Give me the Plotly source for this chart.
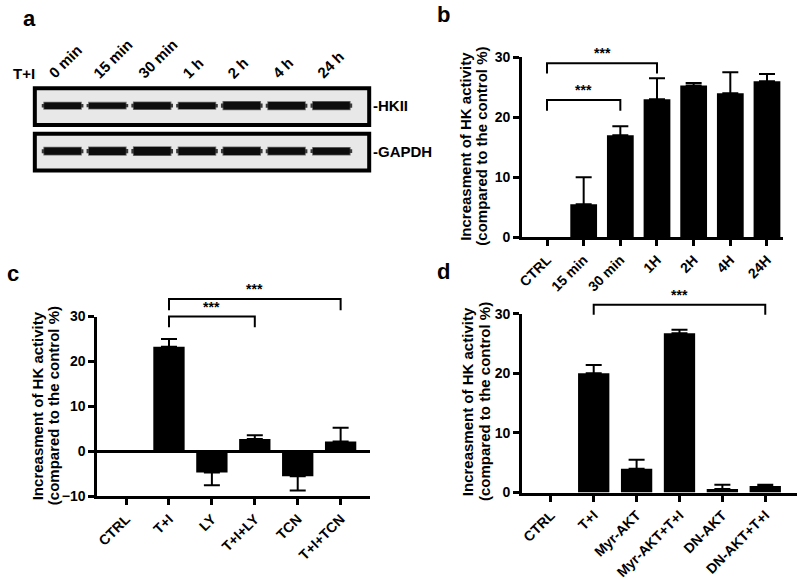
import plotly.graph_objects as go

# ---------------- data ----------------
# panel a (western blot)
lanes = ["0 min", "15 min", "30 min", "1 h", "2 h", "4 h", "24 h"]
hkii_thickness = [0.15, 0.14, 0.16, 0.15, 0.18, 0.17, 0.18]
gapdh_thickness = [0.17, 0.18, 0.19, 0.18, 0.18, 0.17, 0.16]
blot_rows = ["-HKII", "-GAPDH"]

# panel b
b_cats = ["CTRL", "15 min", "30 min", "1H", "2H", "4H", "24H"]
b_vals = [0, 5.5, 17.0, 23.0, 25.3, 24.0, 26.0]
b_err = [None, 4.5, 1.5, 3.5, 0.4, 3.5, 1.2]

# panel c
c_cats = ["CTRL", "T+I", "LY", "T+I+LY", "TCN", "T+I+TCN"]
c_vals = [0, 23.3, -4.7, 2.8, -5.5, 2.2]
c_err = [None, 1.7, 2.8, 0.8, 3.2, 3.1]

# panel d
d_cats = ["CTRL", "T+I", "Myr-AKT", "Myr-AKT+T+I", "DN-AKT", "DN-AKT+T+I"]
d_vals = [0, 20.0, 4.0, 26.7, 0.6, 1.1]
d_err = [None, 1.4, 1.5, 0.6, 0.7, 0.2]

# significance brackets: (from index, to index, top y, leg end y)
b_brackets = [(0, 3, 29.0, 27.3), (0, 2, 22.9, 21.1)]
c_brackets = [(1, 3, 30.0, 27.6), (1, 5, 33.9, 31.4)]
d_brackets = [(1, 5, 31.5, 29.8)]
sig_label = "***"

ytitle_lines = ["Increasment of HK activity", "(compared to the control %)"]

FONT = "Liberation Sans, Arial, sans-serif"
W, H = 797, 580
fig = go.Figure()


def pfx(px):
    return px / W


def pfy(py):
    return 1 - py / H


# panel geometry (pixels): x left, x right, y bottom, y top, x range, y range
panels = {
    "b": dict(xl=520, xr=783, yb=237, yt=51, xr_=[-0.68, 6.44], yr=[0, 30], ax="", aux="5"),
    "c": dict(xl=92, xr=367, yb=505, yt=319, xr_=[-0.67, 5.69], yr=[-10, 30], ax="2", aux="6"),
    "d": dict(xl=520, xr=797, yb=501, yt=316, xr_=[-0.67, 5.74], yr=[0, 30], ax="3", aux="7"),
}
EXTRA_TOP = 45  # pixels of room above the axis for brackets

tickfont = dict(family=FONT, size=14, color="black", weight=700)
xcommon = dict(showline=True, linecolor="black", linewidth=3, ticks="outside",
               ticklen=6, tickwidth=2.5, tickcolor="black", tickangle=-45,
               tickfont=tickfont, showgrid=False, zeroline=False, fixedrange=True)
ycommon = dict(showline=True, linecolor="black", linewidth=3, ticks="outside",
               ticklen=6, tickwidth=2.5, tickcolor="black",
               tickfont=tickfont, showgrid=False, fixedrange=True)
layout_axes = {}


def bar_panel(key, cats, vals, errs, brackets, yticks):
    g = panels[key]
    xa, ya = "x" + g["ax"], "y" + g["ax"]
    xb, yb = "x" + g["aux"], "y" + g["aux"]
    xs = list(range(len(cats)))
    fig.add_trace(go.Bar(
        x=xs, y=vals, width=0.73, marker=dict(color="black", line=dict(width=0)),
        xaxis=xa, yaxis=ya, hoverinfo="skip"))
    # error bars (only where an error exists), pointing away from zero
    ex = [x for x, e in zip(xs, errs) if e is not None]
    ey = [v for v, e in zip(vals, errs) if e is not None]
    up = [e if v >= 0 else 0 for v, e in zip(vals, errs) if e is not None]
    dn = [e if v < 0 else 0 for v, e in zip(vals, errs) if e is not None]
    fig.add_trace(go.Scatter(
        x=ex, y=ey, mode="markers", marker=dict(size=1, opacity=0),
        error_y=dict(type="data", symmetric=False, array=up, arrayminus=dn,
                     color="black", thickness=2, width=8),
        xaxis=xa, yaxis=ya, hoverinfo="skip"))
    # auxiliary axes with identical scale but extra room on top
    ppu = (g["yb"] - g["yt"]) / (g["yr"][1] - g["yr"][0])
    aux_top = g["yr"][1] + EXTRA_TOP / ppu
    for (i, j, top, leg) in brackets:
        fig.add_trace(go.Scatter(
            x=[xs[i], xs[i], xs[j], xs[j]], y=[leg, top, top, leg], mode="lines",
            line=dict(color="black", width=2),
            xaxis=xb, yaxis=yb, hoverinfo="skip"))
        fig.add_annotation(x=(xs[i] + xs[j]) / 2, y=top, xref=xb, yref=yb,
                           text=sig_label, showarrow=False, yanchor="bottom", yshift=0,
                           font=dict(family=FONT, size=14, color="black", weight=700))
    xname = "xaxis" + g["ax"]
    yname = "yaxis" + g["ax"]
    layout_axes[xname] = dict(domain=[pfx(g["xl"]), min(1.0, pfx(g["xr"]))], range=g["xr_"],
                              anchor=ya, tickvals=xs, ticktext=cats, **xcommon)
    yextra = dict(zeroline=False)
    if g["yr"][0] < 0:
        yextra = dict(zeroline=True, zerolinecolor="black", zerolinewidth=3)
    layout_axes[yname] = dict(domain=[pfy(g["yb"]), pfy(g["yt"])], range=g["yr"],
                              anchor=xa, tickvals=yticks, **yextra, **ycommon)
    layout_axes["xaxis" + g["aux"]] = dict(domain=[pfx(g["xl"]), min(1.0, pfx(g["xr"]))],
                                           range=g["xr_"], anchor=yb, visible=False,
                                           fixedrange=True)
    layout_axes["yaxis" + g["aux"]] = dict(domain=[pfy(g["yb"]), pfy(g["yt"] - EXTRA_TOP)],
                                           range=[g["yr"][0], aux_top], anchor=xb,
                                           visible=False, fixedrange=True)


bar_panel("b", b_cats, b_vals, b_err, b_brackets, [0, 10, 20, 30])
bar_panel("c", c_cats, c_vals, c_err, c_brackets, [-10, 0, 10, 20, 30])
bar_panel("d", d_cats, d_vals, d_err, d_brackets, [0, 10, 20, 30])

# ---------------- blot (panel a) ----------------
lane_x = list(range(len(lanes)))
row_center = {"-HKII": 1.556, "-GAPDH": 0.511}
for row, thick in (("-HKII", hkii_thickness), ("-GAPDH", gapdh_thickness)):
    c0 = row_center[row]
    # (width, thickness factor, thickness add, colour)
    for bw, fac, add, col in ((0.86, 1.0, 0.035, "#707070"),
                              (0.93, 0.55, 0.0, "#3a3a3a"),
                              (0.82, 1.0, 0.0, "#0d0d0d")):
        t = [v * fac + add for v in thick]
        fig.add_trace(go.Bar(
            x=lane_x, y=t, base=[c0 - v / 2 for v in t], width=bw,
            marker=dict(color=col, line=dict(width=0)),
            xaxis="x4", yaxis="y4", hoverinfo="skip"))

for (y0, y1) in ((0.556, 0.978), (0.033, 0.456)):
    fig.add_shape(type="rect", xref="x4 domain", yref="y4 domain",
                  x0=0.006, x1=0.994, y0=y0, y1=y1,
                  line=dict(color="black", width=4), fillcolor="#e8e8e8", layer="below")

for lx, lab in zip(lane_x, lanes):
    fig.add_annotation(x=lx - 0.45, y=pfy(79), xref="x4", yref="paper",
                       text=lab, textangle=-45, showarrow=False,
                       xanchor="left", yanchor="bottom",
                       font=dict(family=FONT, size=15, color="black", weight=700))

for row in blot_rows:
    fig.add_annotation(x=1.0, y=row_center[row], xref="x4 domain", yref="y4",
                       text=row, showarrow=False, xanchor="left", yanchor="middle",
                       xshift=0,
                       font=dict(family=FONT, size=15, color="black", weight=700))

fig.add_annotation(x=pfx(18.5), y=pfy(68), xref="paper", yref="paper",
                   text="T+I", showarrow=False, xanchor="center", yanchor="middle",
                   font=dict(family=FONT, size=15, color="black", weight=700))

# panel letters
for letter, px, py in (("a", 24, 11), ("b", 441, 7), ("c", 7, 274), ("d", 441, 272)):
    fig.add_annotation(x=pfx(px), y=pfy(py), xref="paper", yref="paper",
                       text=letter, showarrow=False, xanchor="center", yanchor="middle",
                       font=dict(family=FONT, size=22, color="black", weight=700))

# y axis titles (two rotated lines each)
for (x1, x2, py) in ((463, 479, 143), (32, 48, 411), (465, 482, 407)):
    for px, line in ((x1, ytitle_lines[0]), (x2, ytitle_lines[1])):
        fig.add_annotation(x=pfx(px), y=pfy(py), xref="paper", yref="paper",
                           text=line, textangle=-90, showarrow=False,
                           xanchor="center", yanchor="middle",
                           font=dict(family=FONT, size=15, color="black", weight=700))

fig.update_layout(
    width=W, height=H, margin=dict(l=0, r=0, t=0, b=0),
    paper_bgcolor="white", plot_bgcolor="rgba(0,0,0,0)", showlegend=False,
    barmode="overlay",
    xaxis4=dict(domain=[pfx(27), pfx(368)], range=[-0.665, 6.89], anchor="y4",
                visible=False, fixedrange=True),
    yaxis4=dict(domain=[pfy(171), pfy(81)], range=[0, 2], anchor="x4",
                visible=False, fixedrange=True),
    **layout_axes,
)

fig.write_html("out.html", config={"displayModeBar": False},
               post_script="document.body.style.margin='0';document.body.style.padding='0';")
